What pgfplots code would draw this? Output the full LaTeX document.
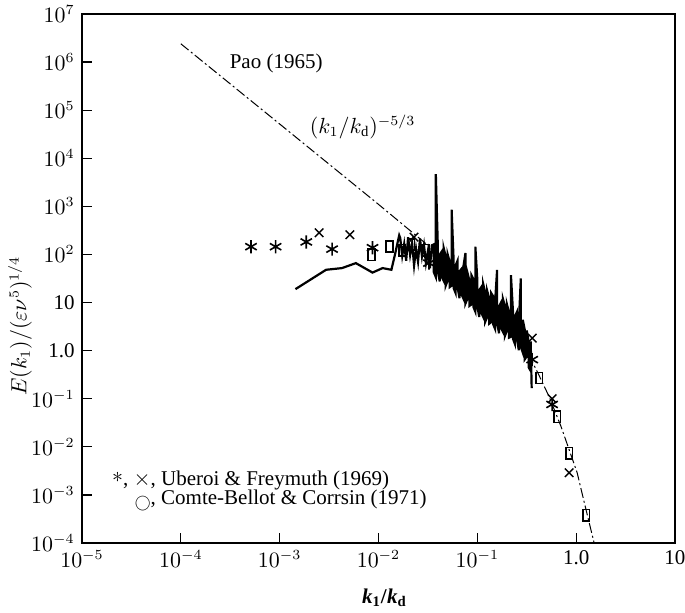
\documentclass[border=0pt]{standalone}
\usepackage{fontspec}
\setmainfont{Liberation Serif}
\usepackage{graphicx}
\usepackage{pgfplots}
\pgfplotsset{compat=1.18}
\begin{document}
\fontsize{10.5}{12}\selectfont
\begin{tikzpicture}
\begin{axis}[
  name=ax,
  scale only axis, width=296.5pt, height=264.5pt,
  xmode=log, ymode=log,
  xmin=1e-5, xmax=10, ymin=1e-4, ymax=1e7,
  xtick={1e-5,1e-4,1e-3,1e-2,1e-1,1,10},
  xticklabels={$10^{-5}$,$10^{-4}$,$10^{-3}$,$10^{-2}$,$10^{-1}$,1.0,10},
  ytick={1e-4,1e-3,1e-2,1e-1,1,10,1e2,1e3,1e4,1e5,1e6,1e7},
  yticklabels={$10^{-4}$,$10^{-3}$,$10^{-2}$,$10^{-1}$,1.0,10,$10^{2}$,$10^{3}$,$10^{4}$,$10^{5}$,$10^{6}$,$10^{7}$},
  xminorticks=false, yminorticks=false,
  tick align=inside, xtick pos=bottom, ytick pos=left,
  major tick length=5pt,
  axis line style={line width=0.7pt},
  tick style={line width=0.6pt, black},
  xlabel={\textbf{\textit{k}}\textsubscript{\textbf{1}}\textbf{/}\textbf{\textit{k}}\textsubscript{\textbf{d}}},
  ylabel={$E(k_1)/(\varepsilon\nu^5)^{1/4}$},
  x label style={at={(rel axis cs:0.51,0)}, anchor=center, yshift=-27.5pt},
  y label style={at={(rel axis cs:0,0.41)}, anchor=center, yshift=31pt},
]
\addplot[black, line width=0.5pt, dash pattern=on 5pt off 1.5pt on 1pt off 1.5pt] coordinates {
(1e-4,2.4e6) (1e-3,5.16e4) (1e-2,1100) (0.0316,155) (0.0631,45) (0.1,18.8) (0.158,7.0) (0.251,2.0) (0.316,1.0) (0.423,0.30) (0.533,0.11) (0.705,0.026) (0.849,0.0087) (1.023,0.0029) (1.205,7.1e-4) (1.52,1.0e-4) (1.6,5e-5)
};
\addplot[black, line width=1.1pt] coordinates {
(1.445e-3,19) (2.95e-3,48) (4.27e-3,52) (5.9e-3,66) (8.7e-3,42) (0.011,52) (0.0135,48) (0.0145,89) (0.0162,250)
(0.01660,219) (0.01738,93.3) (0.01820,166) (0.01905,74.1) (0.01995,229) (0.02089,97.7) (0.02188,174) (0.02291,58.9) (0.02399,132) (0.02512,70.8) (0.02630,214) (0.02754,91.2) (0.02884,158) (0.03020,66.1) (0.03162,117) (0.03311,51.3) (0.03467,155)
(0.03631,162) (0.03631,42.7) (0.03802,33.9) (0.03802,4677) (0.03981,158) (0.03981,44.7)
(0.04169,27.5) (0.04169,100) (0.04365,115) (0.04365,33.9) (0.04571,28.2) (0.04571,135)
(0.04786,91.2) (0.04786,22.4) (0.05012,28.8) (0.05012,100) (0.05248,70.8) (0.05248,20.9)
(0.05495,22.4) (0.05495,851) (0.05754,75.9) (0.05754,20.0) (0.06026,15.8) (0.06026,58.9)
(0.06310,74.1) (0.06310,20.9) (0.06607,12.3) (0.06607,44.7) (0.06918,50.1) (0.06918,14.8)
(0.07244,12.0) (0.07244,57.5) (0.07586,107) (0.07586,9.55) (0.07943,12.0) (0.07943,41.7)
(0.08318,28.8) (0.08318,8.51) (0.08710,9.12) (0.08710,37.2) (0.09120,30.9) (0.09120,8.13)
(0.09550,6.46) (0.09550,145) (0.1000,29.5) (0.1000,8.32) (0.1047,5.01) (0.1047,18.2)
(0.1096,20.9) (0.1096,6.17) (0.1148,5.01) (0.1148,24.0) (0.1202,16.2) (0.1202,3.98)
(0.1259,5.01) (0.1259,17.4) (0.1318,12.3) (0.1318,3.63) (0.1380,3.89) (0.1380,15.8)
(0.1445,13.5) (0.1445,3.55) (0.1514,2.82) (0.1514,10.5) (0.1585,47.9) (0.1585,3.72)
(0.1660,2.29) (0.1660,8.32) (0.1738,10.0) (0.1738,2.95) (0.1820,2.45) (0.1820,11.7)
(0.1905,8.32) (0.1905,2.04) (0.1995,2.63) (0.1995,9.12) (0.2089,6.31) (0.2089,1.86)
(0.2188,1.95) (0.2188,37.2) (0.2291,6.76) (0.2291,1.78) (0.2399,1.38) (0.2399,5.13)
(0.2512,6.31) (0.2512,1.78) (0.2630,1.02) (0.2630,3.72) (0.2754,31.6) (0.2754,1.20)
(0.2884,0.912) (0.2884,4.37) (0.3020,2.69) (0.3020,0.661) (0.3162,0.759) (0.3162,2.63)
(0.3311,1.51) (0.3311,0.447) (0.3467,0.380) (0.3467,1.55) (0.3548,0.166)
};
\addplot[only marks, mark=asterisk, mark size=3.3pt, mark options={line width=0.8pt}] coordinates {
(5.13e-4,145) (9.1e-4,145) (1.86e-3,182) (3.39e-3,129) (8.7e-3,138) (0.0324,66) (0.359,0.65) (0.571,0.076)
};
\addplot[only marks, mark=x, mark size=3pt, mark options={line width=0.7pt}] coordinates {
(2.51e-3,282) (5.13e-3,257) (0.0229,229) (0.359,1.82) (0.571,0.10) (0.849,2.9e-3)
};
\addplot[only marks, mark=square, mark size=2.8pt, mark options={xscale=0.6, line width=0.8pt}] coordinates {
(8.5e-3,98) (0.0129,145) (0.0174,123) (0.0214,158) (0.030,123) (0.423,0.27) (0.643,0.042) (0.849,7.4e-3) (1.26,3.8e-4)
};
\node[anchor=west, inner sep=0pt] at (axis cs:3.1e-4,9.5e5) {Pao (1965)};
\node[anchor=west, inner sep=0pt] at (axis cs:2.0e-3,4.5e4) {$(k_1/k_{\mathrm{d}})^{-5/3}$};
\node[anchor=west, inner sep=0pt] at (axis cs:2.0e-5,1.95e-3) {\raisebox{0.35ex}{$\ast$}, $\times$, Uberoi \& Freymuth (1969)};
\node[anchor=west, inner sep=0pt] at (axis cs:3.4e-5,7.6e-4) {\raisebox{-0.3ex}{\scalebox{0.72}{$\bigcirc$}}, Comte-Bellot \& Corrsin (1971)};
\end{axis}
\pgfresetboundingbox
\path[use as bounding box] ([shift={(-41pt,-35pt)}]ax.south west) rectangle ([shift={(5pt,7pt)}]ax.north east);
\end{tikzpicture}
\end{document}
